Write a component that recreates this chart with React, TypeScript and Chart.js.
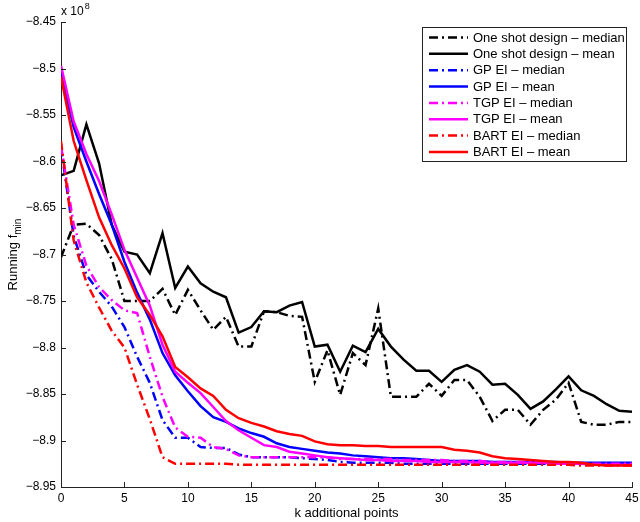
import React, { useEffect, useRef } from "react";
import { Chart, registerables } from "chart.js";

Chart.register(...registerables);

const kPoints = [0, 1, 2, 3, 4, 5, 6, 7, 8, 9, 10, 11, 12, 13, 14, 15, 16, 17, 18, 19, 20, 21, 22, 23, 24, 25, 26, 27, 28, 29, 30, 31, 32, 33, 34, 35, 36, 37, 38, 39, 40, 41, 42, 43, 44, 45];

const xTicks = [0, 5, 10, 15, 20, 25, 30, 35, 40, 45];
const xTickLabels = ["0", "5", "10", "15", "20", "25", "30", "35", "40", "45"];
const yTicks = [-8.95, -8.9, -8.85, -8.8, -8.75, -8.7, -8.65, -8.6, -8.55, -8.5, -8.45];
const yTickLabels = ["\u22128.95", "\u22128.9", "\u22128.85", "\u22128.8", "\u22128.75", "\u22128.7", "\u22128.65", "\u22128.6", "\u22128.55", "\u22128.5", "\u22128.45"];

const oneShotMedian = [-8.703, -8.668, -8.667, -8.679, -8.705, -8.750, -8.750, -8.750, -8.737, -8.765, -8.738, -8.760, -8.781, -8.767, -8.799, -8.799, -8.761, -8.762, -8.766, -8.767, -8.837, -8.803, -8.851, -8.806, -8.819, -8.758, -8.853, -8.853, -8.853, -8.839, -8.852, -8.835, -8.835, -8.853, -8.879, -8.867, -8.867, -8.883, -8.867, -8.856, -8.838, -8.880, -8.883, -8.883, -8.880, -8.880];
const oneShotMean = [-8.615, -8.610, -8.560, -8.602, -8.668, -8.697, -8.700, -8.720, -8.677, -8.736, -8.713, -8.731, -8.740, -8.746, -8.784, -8.778, -8.761, -8.762, -8.755, -8.751, -8.799, -8.797, -8.826, -8.798, -8.805, -8.780, -8.799, -8.813, -8.825, -8.825, -8.837, -8.824, -8.819, -8.826, -8.840, -8.839, -8.851, -8.866, -8.858, -8.845, -8.831, -8.846, -8.852, -8.861, -8.868, -8.869];
const gpMedian = [-8.585, -8.680, -8.722, -8.740, -8.756, -8.778, -8.810, -8.838, -8.878, -8.897, -8.897, -8.907, -8.908, -8.908, -8.915, -8.918, -8.918, -8.918, -8.918, -8.919, -8.920, -8.921, -8.923, -8.924, -8.924, -8.924, -8.924, -8.925, -8.925, -8.925, -8.925, -8.925, -8.925, -8.925, -8.925, -8.925, -8.925, -8.925, -8.925, -8.925, -8.925, -8.925, -8.925, -8.925, -8.925, -8.925];
const gpMean = [-8.505, -8.563, -8.600, -8.635, -8.668, -8.708, -8.741, -8.770, -8.806, -8.830, -8.847, -8.863, -8.875, -8.880, -8.887, -8.892, -8.896, -8.903, -8.907, -8.909, -8.911, -8.913, -8.914, -8.916, -8.917, -8.918, -8.919, -8.919, -8.920, -8.921, -8.922, -8.922, -8.922, -8.922, -8.923, -8.923, -8.923, -8.923, -8.923, -8.923, -8.924, -8.924, -8.924, -8.924, -8.924, -8.924];
const tgpMedian = [-8.583, -8.668, -8.712, -8.735, -8.749, -8.760, -8.763, -8.810, -8.853, -8.886, -8.896, -8.897, -8.907, -8.909, -8.916, -8.918, -8.918, -8.918, -8.918, -8.918, -8.918, -8.918, -8.920, -8.920, -8.920, -8.920, -8.920, -8.921, -8.921, -8.921, -8.921, -8.922, -8.922, -8.922, -8.923, -8.923, -8.923, -8.923, -8.924, -8.924, -8.924, -8.925, -8.925, -8.925, -8.925, -8.925];
const tgpMean = [-8.497, -8.557, -8.592, -8.621, -8.657, -8.695, -8.725, -8.755, -8.797, -8.826, -8.838, -8.849, -8.864, -8.879, -8.889, -8.897, -8.905, -8.907, -8.912, -8.914, -8.916, -8.918, -8.919, -8.920, -8.921, -8.921, -8.922, -8.922, -8.922, -8.923, -8.923, -8.923, -8.923, -8.924, -8.924, -8.924, -8.924, -8.924, -8.924, -8.925, -8.925, -8.925, -8.926, -8.926, -8.926, -8.926];
const bartMedian = [-8.578, -8.685, -8.730, -8.757, -8.782, -8.800, -8.840, -8.877, -8.918, -8.925, -8.925, -8.925, -8.925, -8.925, -8.926, -8.926, -8.926, -8.926, -8.926, -8.926, -8.926, -8.926, -8.926, -8.926, -8.926, -8.926, -8.926, -8.926, -8.926, -8.926, -8.926, -8.926, -8.926, -8.926, -8.926, -8.926, -8.926, -8.926, -8.926, -8.926, -8.926, -8.927, -8.927, -8.927, -8.927, -8.927];
const bartMean = [-8.509, -8.578, -8.620, -8.660, -8.690, -8.715, -8.746, -8.765, -8.788, -8.821, -8.832, -8.844, -8.852, -8.867, -8.876, -8.881, -8.885, -8.890, -8.893, -8.895, -8.901, -8.904, -8.905, -8.905, -8.906, -8.906, -8.907, -8.907, -8.907, -8.907, -8.907, -8.910, -8.911, -8.913, -8.917, -8.919, -8.920, -8.921, -8.922, -8.923, -8.923, -8.924, -8.926, -8.927, -8.927, -8.927];

const seriesLabels = [
  "One shot design \u2013 median",
  "One shot design \u2013 mean",
  "GP EI \u2013 median",
  "GP EI \u2013 mean",
  "TGP EI \u2013 median",
  "TGP EI \u2013 mean",
  "BART EI \u2013 median",
  "BART EI \u2013 mean",
];
const seriesValues = [oneShotMedian, oneShotMean, gpMedian, gpMean, tgpMedian, tgpMean, bartMedian, bartMean];
const seriesColors = ["#000000", "#000000", "#0000ff", "#0000ff", "#ff00ff", "#ff00ff", "#ff0000", "#ff0000"];
const seriesDashed = [true, false, true, false, true, false, true, false];

const DASH = [9, 4, 2, 4];
const FONT = "'Liberation Sans', Arial, Helvetica, sans-serif";

const decorPlugin = {
  id: "decor",
  afterDraw(chart: any) {
    const { ctx, chartArea, scales } = chart;
    const xs = scales.x;
    const ys = scales.y;
    ctx.save();
    // inward ticks
    ctx.strokeStyle = "#222";
    ctx.lineWidth = 1;
    ctx.setLineDash([]);
    ctx.beginPath();
    for (const v of yTicks) {
      const py = Math.round(ys.getPixelForValue(v)) + 0.5;
      ctx.moveTo(chartArea.left, py);
      ctx.lineTo(chartArea.left + 5, py);
    }
    for (const v of xTicks) {
      const px = Math.round(xs.getPixelForValue(v)) + 0.5;
      ctx.moveTo(px, chartArea.bottom);
      ctx.lineTo(px, chartArea.bottom - 5);
    }
    ctx.stroke();

    // exponent label
    ctx.fillStyle = "#000";
    ctx.textBaseline = "alphabetic";
    ctx.textAlign = "left";
    ctx.font = `12px ${FONT}`;
    ctx.fillText("x 10", chartArea.left, 15);
    const w = ctx.measureText("x 10").width;
    ctx.font = `9px ${FONT}`;
    ctx.fillText("8", chartArea.left + w + 1, 9);

    // y title with subscript
    ctx.save();
    ctx.translate(13, (chartArea.top + chartArea.bottom) / 2);
    ctx.rotate(-Math.PI / 2);
    ctx.font = `13px ${FONT}`;
    const main = "Running f";
    const mw = ctx.measureText(main).width;
    ctx.font = `10px ${FONT}`;
    const sw = ctx.measureText("min").width;
    const total = mw + sw;
    ctx.font = `13px ${FONT}`;
    ctx.textBaseline = "middle";
    ctx.fillText(main, -total / 2, 0);
    ctx.font = `10px ${FONT}`;
    ctx.fillText("min", -total / 2 + mw, 5);
    ctx.restore();

    // legend
    const bx = 422.5, by = 27.5, bw = 204, bh = 134;
    ctx.fillStyle = "#fff";
    ctx.fillRect(bx, by, bw, bh);
    ctx.strokeStyle = "#222";
    ctx.lineWidth = 1;
    ctx.strokeRect(bx, by, bw, bh);
    const ds = chart.data.datasets;
    for (let i = 0; i < ds.length; i++) {
      const cy = 37.5 + i * 16.35;
      ctx.strokeStyle = ds[i].borderColor;
      ctx.lineWidth = 2.5;
      ctx.setLineDash(ds[i].borderDash || []);
      ctx.beginPath();
      ctx.moveTo(429, cy);
      ctx.lineTo(468, cy);
      ctx.stroke();
      ctx.setLineDash([]);
      ctx.fillStyle = "#000";
      ctx.font = `13px ${FONT}`;
      ctx.textBaseline = "middle";
      ctx.textAlign = "left";
      ctx.fillText(ds[i].label, 473, cy + 0.5);
    }
    ctx.restore();
  },
};

export default function App() {
  const canvasRef = useRef<HTMLCanvasElement | null>(null);

  useEffect(() => {
    const canvas = canvasRef.current;
    if (!canvas) return;
    const datasets = seriesValues.map((vals, i) => ({
      label: seriesLabels[i],
      data: vals.map((v, j) => ({ x: kPoints[j], y: v })),
      borderColor: seriesColors[i],
      backgroundColor: seriesColors[i],
      borderWidth: 2.5,
      borderDash: seriesDashed[i] ? DASH : [],
      pointRadius: 0,
      fill: false,
      tension: 0,
      order: seriesValues.length - 1 - i,
    }));

    const chart = new Chart(canvas, {
      type: "line",
      data: { datasets },
      options: {
        animation: false,
        responsive: false,
        maintainAspectRatio: false,
        layout: { padding: { left: 0, right: 8, top: 22, bottom: 0 } },
        plugins: { legend: { display: false }, tooltip: { enabled: false } },
        scales: {
          x: {
            type: "linear",
            min: 0,
            max: 45,
            afterBuildTicks: (scale: any) => {
              scale.ticks = xTicks.map((v) => ({ value: v }));
            },
            afterFit: (scale: any) => {
              scale.height = 35;
              scale.paddingLeft = 0;
              scale.paddingRight = 0;
            },
            ticks: {
              autoSkip: false,
              maxRotation: 0,
              padding: 4,
              color: "#000",
              font: { family: FONT, size: 12 },
              callback: (v: any) => xTickLabels[xTicks.indexOf(v)] ?? "",
            },
            grid: { display: true, drawOnChartArea: false, drawTicks: false },
            border: { display: true, color: "#222", width: 1 },
            title: {
              display: true,
              text: "k additional points",
              color: "#000",
              font: { family: FONT, size: 13 },
              padding: { top: 0, bottom: 1 },
            },
          },
          y: {
            type: "linear",
            min: -8.95,
            max: -8.45,
            afterBuildTicks: (scale: any) => {
              scale.ticks = yTicks.map((v) => ({ value: v }));
            },
            afterFit: (scale: any) => {
              scale.width = 61;
              scale.paddingTop = 0;
              scale.paddingBottom = 0;
            },
            ticks: {
              autoSkip: false,
              padding: 5,
              color: "#000",
              font: { family: FONT, size: 12 },
              callback: (v: any) => yTickLabels[yTicks.indexOf(v)] ?? "",
            },
            grid: { display: true, drawOnChartArea: false, drawTicks: false },
            border: { display: true, color: "#222", width: 1 },
          },
        },
      },
      plugins: [decorPlugin],
    } as any);
    return () => chart.destroy();
  }, []);

  return (
    <div style={{ position: "absolute", left: 0, top: 0, width: 640, height: 522, background: "#fff" }}>
      <canvas ref={canvasRef} width={640} height={522} style={{ display: "block" }} />
    </div>
  );
}
